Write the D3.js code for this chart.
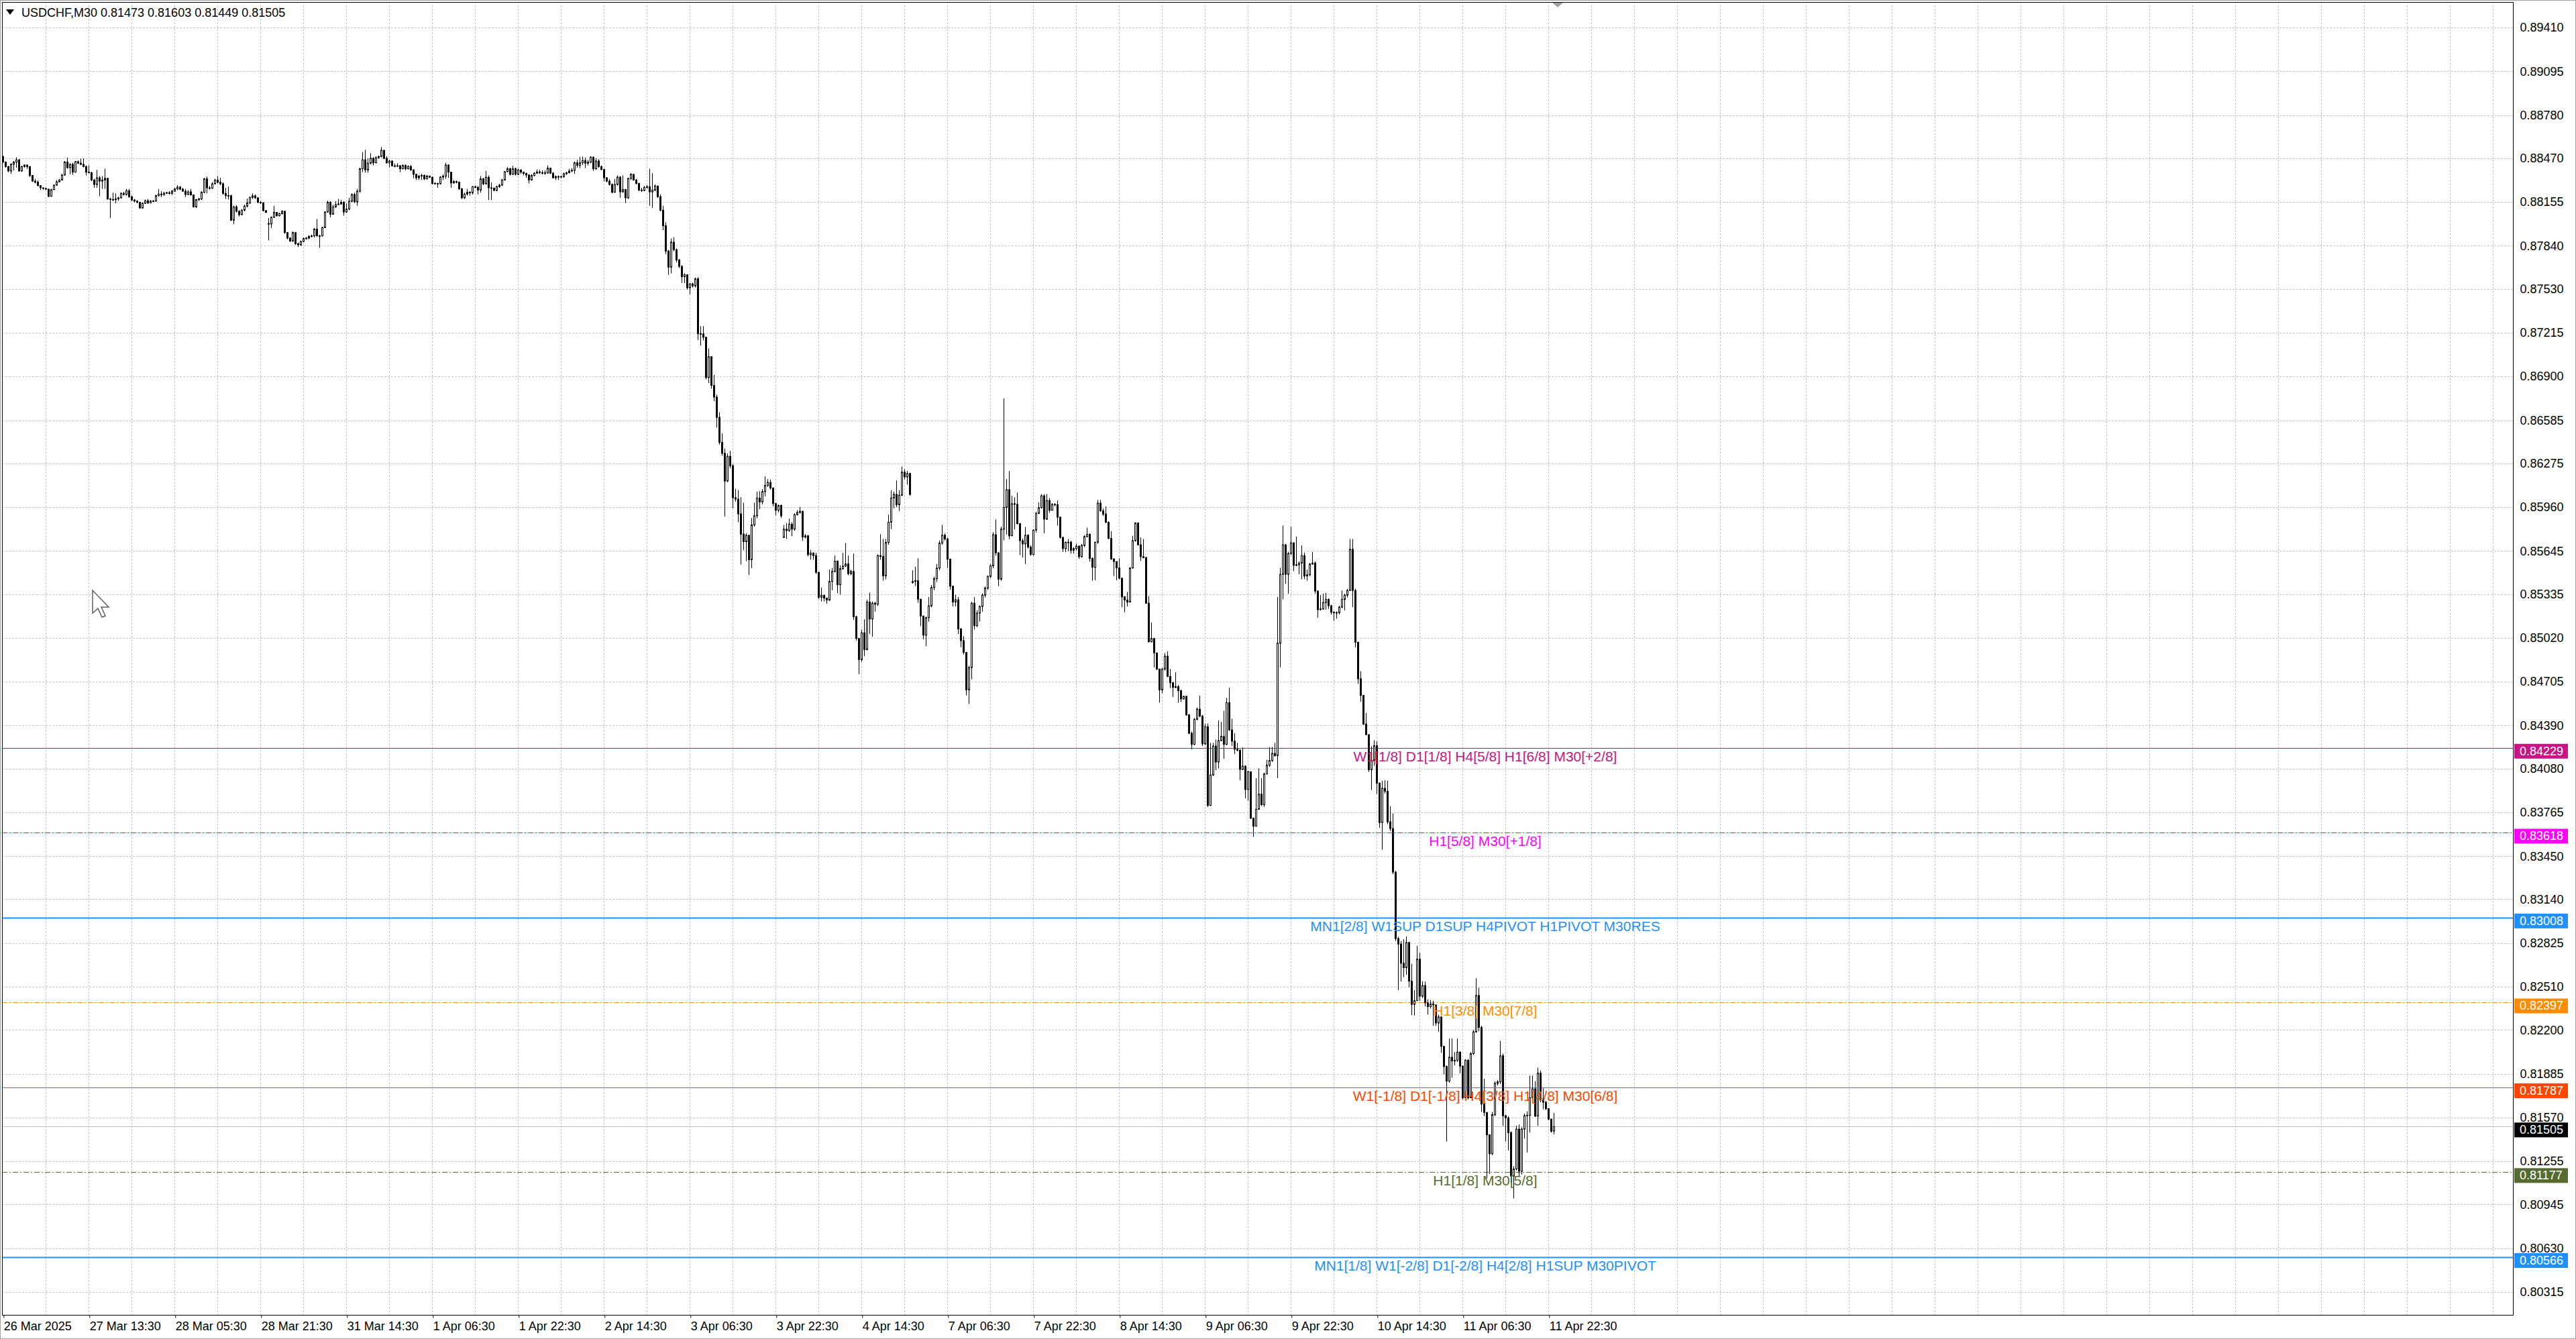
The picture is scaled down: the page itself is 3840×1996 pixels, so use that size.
<!DOCTYPE html>
<html>
<head>
<meta charset="utf-8">
<script src="https://cdn.jsdelivr.net/npm/d3@7"></script>
<style>
  html, body { margin: 0; padding: 0; background: #fff; }
  svg { display: block; }
  .ui { font-family: "Liberation Sans", Arial, sans-serif; font-size: 18px; }
  .lvl { font-family: "Liberation Sans", Arial, sans-serif; font-size: 21px; }
</style>
</head>
<body>
<div id="chart"></div>
<script>
const chartTitle = "USDCHF,M30  0.81473 0.81603 0.81449 0.81505";

// M30 bars; open = previous close except where a gap is listed
const closes = [
0.88442,0.88410,0.88378,0.88426,0.88442,0.88458,0.88378,0.88410,0.88421,0.88410,
0.88346,0.88305,0.88297,0.88273,0.88257,0.88252,0.88247,0.88196,0.88244,0.88276,
0.88300,0.88313,0.88349,0.88442,0.88402,0.88426,0.88370,0.88445,0.88434,0.88426,
0.88410,0.88370,0.88366,0.88313,0.88281,0.88329,0.88305,0.88313,0.88325,0.88177,
0.88173,0.88172,0.88178,0.88185,0.88217,0.88209,0.88236,0.88193,0.88169,0.88161,
0.88153,0.88112,0.88145,0.88164,0.88148,0.88161,0.88162,0.88201,0.88212,0.88206,
0.88218,0.88222,0.88217,0.88233,0.88249,0.88262,0.88247,0.88233,0.88209,0.88228,
0.88206,0.88120,0.88172,0.88177,0.88225,0.88321,0.88257,0.88254,0.88286,0.88313,
0.88297,0.88286,0.88217,0.88201,0.88201,0.88024,0.88120,0.88088,0.88064,0.88096,
0.88125,0.88148,0.88188,0.88199,0.88185,0.88153,0.88149,0.88093,0.88080,0.87997,
0.88045,0.88080,0.88056,0.88072,0.88088,0.87935,0.87895,0.87874,0.87935,0.87855,
0.87847,0.87871,0.87892,0.87895,0.87907,0.87911,0.87960,0.87911,0.87911,0.87971,
0.88083,0.88153,0.88067,0.88120,0.88136,0.88141,0.88153,0.88083,0.88104,0.88161,
0.88209,0.88156,0.88233,0.88394,0.88458,0.88386,0.88434,0.88469,0.88437,0.88474,
0.88482,0.88527,0.88469,0.88437,0.88450,0.88415,0.88413,0.88416,0.88394,0.88418,
0.88394,0.88410,0.88386,0.88354,0.88329,0.88341,0.88346,0.88321,0.88341,0.88333,
0.88289,0.88289,0.88286,0.88334,0.88341,0.88421,0.88370,0.88292,0.88302,0.88297,
0.88249,0.88185,0.88212,0.88225,0.88222,0.88265,0.88260,0.88241,0.88321,0.88286,
0.88333,0.88257,0.88254,0.88238,0.88265,0.88276,0.88313,0.88373,0.88394,0.88354,
0.88394,0.88354,0.88386,0.88370,0.88360,0.88349,0.88313,0.88346,0.88362,0.88371,
0.88366,0.88363,0.88365,0.88399,0.88362,0.88329,0.88338,0.88334,0.88338,0.88358,
0.88366,0.88378,0.88383,0.88437,0.88418,0.88437,0.88453,0.88434,0.88442,0.88477,
0.88394,0.88450,0.88410,0.88389,0.88329,0.88305,0.88281,0.88225,0.88281,0.88334,
0.88228,0.88244,0.88185,0.88325,0.88354,0.88313,0.88289,0.88241,0.88238,0.88260,
0.88265,0.88228,0.88241,0.88270,0.88193,0.88096,0.87984,0.87802,0.87686,0.87866,
0.87812,0.87738,0.87692,0.87618,0.87632,0.87538,0.87566,0.87552,0.87602,0.87208,
0.87206,0.87182,0.86892,0.87042,0.86836,0.86752,0.86606,0.86426,0.86348,0.86148,
0.86326,0.86258,0.86028,0.86018,0.85912,0.85766,0.85712,0.85758,0.85582,0.85832,
0.85898,0.86026,0.85998,0.86072,0.86116,0.86138,0.86098,0.85986,0.85938,0.85972,
0.85898,0.85802,0.85792,0.85838,0.85802,0.85906,0.85922,0.85930,0.85746,0.85754,
0.85618,0.85630,0.85612,0.85492,0.85312,0.85326,0.85306,0.85292,0.85426,0.85498,
0.85572,0.85402,0.85518,0.85536,0.85552,0.85482,0.85498,0.85172,0.85016,0.84864,
0.85056,0.84936,0.85278,0.85156,0.85269,0.85262,0.85612,0.85606,0.85466,0.85706,
0.85852,0.86026,0.86052,0.85978,0.86046,0.86212,0.86178,0.86202,0.86052,0.85426,
0.85432,0.85298,0.85177,0.85040,0.85166,0.85250,0.85382,0.85446,0.85522,0.85702,
0.85758,0.85732,0.85586,0.85392,0.85278,0.85294,0.85085,0.85000,0.84915,0.84646,
0.84807,0.85269,0.85108,0.85198,0.85246,0.85327,0.85378,0.85462,0.85538,0.85762,
0.85632,0.85442,0.85802,0.85958,0.86086,0.85754,0.85985,0.85980,0.85842,0.85719,
0.85696,0.85758,0.85673,0.85620,0.85795,0.85915,0.85957,0.86042,0.85874,0.86008,
0.85938,0.85980,0.85978,0.85888,0.85742,0.85662,0.85708,0.85708,0.85650,0.85662,
0.85680,0.85604,0.85685,0.85749,0.85765,0.85592,0.85528,0.85708,0.85989,0.85934,
0.85911,0.85851,0.85735,0.85588,0.85569,0.85523,0.85449,0.85315,0.85292,0.85278,
0.85523,0.85719,0.85846,0.85689,0.85604,0.85597,0.85269,0.84992,0.85015,0.84912,
0.84796,0.84646,0.84796,0.84888,0.84743,0.84697,0.84664,0.84669,0.84641,0.84581,
0.84600,0.84466,0.84334,0.84254,0.84434,0.84507,0.84457,0.84258,0.84381,0.83815,
0.84034,0.84242,0.84127,0.84281,0.84311,0.84254,0.84554,0.84358,0.84277,0.84219,
0.84212,0.84074,0.84097,0.83930,0.84057,0.83723,0.83665,0.83787,0.83896,0.83820,
0.84041,0.84104,0.84138,0.84189,0.84173,0.84981,0.85477,0.85689,0.85477,0.85627,
0.85703,0.85542,0.85546,0.85558,0.85611,0.85465,0.85474,0.85551,0.85558,0.85357,
0.85223,0.85228,0.85274,0.85297,0.85251,0.85205,0.85200,0.85202,0.85241,0.85297,
0.85327,0.85361,0.85657,0.85361,0.84989,0.84726,0.84606,0.84400,0.84324,0.84072,
0.84140,0.84244,0.83975,0.83692,0.83938,0.83917,0.83697,0.83649,0.83335,0.82857,
0.82818,0.82680,0.82648,0.82829,0.82551,0.82384,0.82411,0.82709,0.82443,0.82519,
0.82395,0.82368,0.82387,0.82380,0.82250,0.82294,0.82082,0.81937,0.81832,0.82004,
0.81977,0.81982,0.82041,0.81940,0.81712,0.81982,0.81712,0.82030,0.82186,0.82448,
0.82218,0.81667,0.81607,0.81446,0.81310,0.81591,0.81816,0.81827,0.82014,0.81583,
0.81567,0.81462,0.81149,0.81200,0.81487,0.81184,0.81487,0.81583,0.81586,0.81712,
0.81776,0.81580,0.81889,0.81696,0.81680,0.81634,0.81559,0.81470,0.81505
];

const highs = [
0.88487,0.88447,0.88415,0.88434,0.88450,0.88477,0.88463,0.88415,0.88426,0.88421,
0.88410,0.88346,0.88321,0.88310,0.88276,0.88260,0.88257,0.88249,0.88249,0.88281,
0.88313,0.88321,0.88357,0.88450,0.88474,0.88434,0.88437,0.88450,0.88453,0.88466,
0.88469,0.88418,0.88418,0.88373,0.88321,0.88386,0.88341,0.88341,0.88394,0.88330,
0.88185,0.88222,0.88217,0.88193,0.88225,0.88228,0.88249,0.88249,0.88201,0.88177,
0.88169,0.88156,0.88153,0.88173,0.88177,0.88169,0.88169,0.88206,0.88249,0.88233,
0.88228,0.88228,0.88233,0.88241,0.88257,0.88276,0.88270,0.88257,0.88249,0.88241,
0.88249,0.88201,0.88177,0.88185,0.88233,0.88329,0.88338,0.88270,0.88297,0.88321,
0.88341,0.88329,0.88297,0.88257,0.88265,0.88206,0.88128,0.88132,0.88096,0.88104,
0.88136,0.88180,0.88193,0.88217,0.88209,0.88190,0.88161,0.88153,0.88096,0.88040,
0.88051,0.88128,0.88083,0.88077,0.88096,0.88093,0.87939,0.87903,0.87943,0.87939,
0.87863,0.87878,0.87900,0.87903,0.87916,0.87920,0.87968,0.88032,0.87920,0.87976,
0.88088,0.88164,0.88161,0.88136,0.88161,0.88177,0.88169,0.88161,0.88145,0.88185,
0.88217,0.88222,0.88249,0.88402,0.88514,0.88530,0.88469,0.88506,0.88477,0.88485,
0.88490,0.88551,0.88527,0.88485,0.88458,0.88453,0.88431,0.88434,0.88421,0.88426,
0.88424,0.88418,0.88421,0.88389,0.88357,0.88350,0.88357,0.88354,0.88350,0.88346,
0.88338,0.88297,0.88292,0.88341,0.88354,0.88437,0.88426,0.88373,0.88313,0.88309,
0.88302,0.88257,0.88222,0.88249,0.88233,0.88270,0.88273,0.88270,0.88341,0.88329,
0.88378,0.88346,0.88297,0.88260,0.88273,0.88286,0.88321,0.88378,0.88405,0.88402,
0.88415,0.88402,0.88394,0.88386,0.88373,0.88366,0.88354,0.88354,0.88370,0.88389,
0.88386,0.88383,0.88383,0.88418,0.88402,0.88370,0.88346,0.88346,0.88344,0.88366,
0.88373,0.88394,0.88399,0.88447,0.88458,0.88479,0.88482,0.88474,0.88458,0.88485,
0.88482,0.88469,0.88463,0.88418,0.88394,0.88334,0.88319,0.88289,0.88321,0.88346,
0.88341,0.88346,0.88249,0.88329,0.88362,0.88357,0.88321,0.88292,0.88257,0.88270,
0.88276,0.88394,0.88362,0.88281,0.88273,0.88209,0.88128,0.88010,0.87810,0.87892,
0.87902,0.87820,0.87745,0.87700,0.87642,0.87636,0.87572,0.87574,0.87612,0.87614,
0.87262,0.87262,0.87186,0.87102,0.87046,0.86912,0.86770,0.86642,0.86492,0.86382,
0.86346,0.86366,0.86270,0.86092,0.86082,0.86032,0.85992,0.85772,0.85760,0.85882,
0.85992,0.86072,0.86076,0.86090,0.86182,0.86162,0.86158,0.86102,0.85990,0.85980,
0.85980,0.85832,0.85846,0.85878,0.85852,0.85916,0.85938,0.85962,0.85934,0.85766,
0.85760,0.85652,0.85636,0.85632,0.85494,0.85382,0.85330,0.85310,0.85512,0.85522,
0.85612,0.85576,0.85542,0.85632,0.85702,0.85612,0.85510,0.85626,0.85180,0.85020,
0.85080,0.85153,0.85295,0.85346,0.85282,0.85280,0.85620,0.85766,0.85732,0.85732,
0.85906,0.86082,0.86072,0.86152,0.86082,0.86252,0.86232,0.86222,0.86208,0.85506,
0.85532,0.85592,0.85300,0.85180,0.85172,0.85314,0.85400,0.85460,0.85552,0.85720,
0.85832,0.85772,0.85740,0.85590,0.85395,0.85330,0.85314,0.85090,0.85032,0.84910,
0.84820,0.85280,0.85314,0.85220,0.85253,0.85340,0.85390,0.85470,0.85550,0.85780,
0.85872,0.85635,0.85820,0.86742,0.86162,0.86220,0.86042,0.86031,0.86065,0.85846,
0.85735,0.85818,0.85765,0.85685,0.85800,0.85927,0.85996,0.86054,0.86054,0.86054,
0.86026,0.85989,0.85989,0.86008,0.85892,0.85749,0.85712,0.85731,0.85719,0.85673,
0.85696,0.85685,0.85696,0.85758,0.85812,0.85772,0.85597,0.85712,0.86012,0.86012,
0.85950,0.85966,0.85858,0.85788,0.85592,0.85569,0.85592,0.85454,0.85320,0.85350,
0.85528,0.85754,0.85851,0.85851,0.85742,0.85731,0.85604,0.85320,0.85131,0.85020,
0.84911,0.84796,0.84803,0.84911,0.84923,0.84796,0.84704,0.84773,0.84681,0.84646,
0.84604,0.84604,0.84473,0.84346,0.84443,0.84519,0.84604,0.84466,0.84404,0.84404,
0.84265,0.84265,0.84288,0.84427,0.84415,0.84496,0.84588,0.84662,0.84438,0.84334,
0.84265,0.84219,0.84231,0.84104,0.84064,0.84057,0.83727,0.84011,0.84081,0.84011,
0.84051,0.84143,0.84235,0.84235,0.84265,0.85315,0.85523,0.85828,0.85696,0.85638,
0.85818,0.85708,0.85749,0.85569,0.85685,0.85634,0.85511,0.85558,0.85638,0.85569,
0.85361,0.85327,0.85338,0.85343,0.85304,0.85258,0.85211,0.85211,0.85251,0.85361,
0.85338,0.85373,0.85731,0.85731,0.85374,0.84990,0.84780,0.84610,0.84480,0.84320,
0.84240,0.84284,0.84276,0.83980,0.83992,0.83995,0.83992,0.83810,0.83757,0.83344,
0.82870,0.82840,0.82853,0.82873,0.82834,0.82676,0.82487,0.82805,0.82754,0.82551,
0.82548,0.82420,0.82416,0.82410,0.82375,0.82310,0.82294,0.82086,0.81945,0.82138,
0.82138,0.82041,0.82138,0.82045,0.81945,0.81990,0.81990,0.82040,0.82200,0.82572,
0.82503,0.82230,0.81850,0.81600,0.81440,0.81610,0.81830,0.81840,0.82122,0.82030,
0.81590,0.81580,0.81470,0.81220,0.81511,0.81520,0.81500,0.81600,0.81615,0.81872,
0.81872,0.81832,0.81929,0.81908,0.81780,0.81690,0.81635,0.81560,0.81603
];

const lows = [
0.88437,0.88402,0.88370,0.88357,0.88381,0.88402,0.88373,0.88373,0.88402,0.88394,
0.88334,0.88300,0.88289,0.88268,0.88241,0.88244,0.88241,0.88190,0.88196,0.88241,
0.88273,0.88297,0.88310,0.88346,0.88394,0.88354,0.88350,0.88366,0.88429,0.88421,
0.88405,0.88346,0.88362,0.88305,0.88257,0.88257,0.88196,0.88249,0.88249,0.88172,
0.88040,0.88164,0.88145,0.88164,0.88180,0.88201,0.88201,0.88185,0.88161,0.88153,
0.88145,0.88107,0.88109,0.88141,0.88141,0.88145,0.88156,0.88157,0.88193,0.88190,
0.88201,0.88212,0.88209,0.88206,0.88228,0.88241,0.88241,0.88228,0.88190,0.88206,
0.88201,0.88116,0.88112,0.88161,0.88169,0.88217,0.88217,0.88244,0.88249,0.88281,
0.88289,0.88276,0.88206,0.88177,0.88173,0.88019,0.87995,0.88080,0.88051,0.88061,
0.88088,0.88116,0.88141,0.88177,0.88177,0.88145,0.88141,0.88088,0.88077,0.87879,
0.87968,0.88040,0.88051,0.88051,0.88064,0.87927,0.87887,0.87868,0.87868,0.87847,
0.87831,0.87839,0.87865,0.87884,0.87887,0.87900,0.87900,0.87907,0.87826,0.87907,
0.87968,0.88080,0.88045,0.88064,0.88112,0.88132,0.88136,0.88056,0.88077,0.88096,
0.88153,0.88148,0.88128,0.88222,0.88370,0.88366,0.88366,0.88426,0.88418,0.88434,
0.88466,0.88477,0.88463,0.88431,0.88405,0.88410,0.88405,0.88407,0.88370,0.88389,
0.88383,0.88389,0.88378,0.88325,0.88313,0.88313,0.88313,0.88313,0.88318,0.88328,
0.88281,0.88281,0.88257,0.88281,0.88313,0.88321,0.88329,0.88257,0.88286,0.88289,
0.88244,0.88177,0.88177,0.88201,0.88201,0.88209,0.88254,0.88209,0.88222,0.88276,
0.88281,0.88169,0.88169,0.88233,0.88233,0.88257,0.88273,0.88309,0.88370,0.88346,
0.88350,0.88346,0.88350,0.88357,0.88346,0.88329,0.88289,0.88309,0.88338,0.88360,
0.88357,0.88354,0.88350,0.88357,0.88357,0.88325,0.88313,0.88313,0.88325,0.88329,
0.88350,0.88360,0.88370,0.88357,0.88402,0.88399,0.88421,0.88399,0.88418,0.88434,
0.88378,0.88386,0.88402,0.88383,0.88302,0.88297,0.88273,0.88217,0.88222,0.88273,
0.88185,0.88222,0.88148,0.88177,0.88313,0.88309,0.88281,0.88233,0.88228,0.88233,
0.88249,0.88128,0.88112,0.88233,0.88185,0.88088,0.87952,0.87780,0.87632,0.87642,
0.87800,0.87720,0.87680,0.87572,0.87572,0.87526,0.87492,0.87540,0.87540,0.87162,
0.87122,0.87160,0.86880,0.86852,0.86812,0.86722,0.86532,0.86410,0.86330,0.85892,
0.86140,0.86240,0.85952,0.86000,0.85852,0.85548,0.85652,0.85572,0.85472,0.85522,
0.85820,0.85880,0.85946,0.85980,0.86038,0.86106,0.86086,0.85966,0.85902,0.85922,
0.85882,0.85742,0.85732,0.85782,0.85752,0.85790,0.85900,0.85914,0.85718,0.85736,
0.85606,0.85582,0.85582,0.85480,0.85300,0.85282,0.85282,0.85266,0.85286,0.85362,
0.85490,0.85342,0.85332,0.85510,0.85530,0.85470,0.85470,0.85150,0.85000,0.84759,
0.84847,0.84888,0.84930,0.85048,0.85028,0.85209,0.85250,0.85582,0.85432,0.85440,
0.85690,0.85802,0.85952,0.85960,0.85932,0.86040,0.86160,0.86122,0.86042,0.85410,
0.85392,0.85272,0.85105,0.85010,0.84960,0.85137,0.85240,0.85362,0.85422,0.85506,
0.85690,0.85720,0.85522,0.85366,0.85246,0.85246,0.85048,0.84952,0.84900,0.84606,
0.84545,0.84722,0.85080,0.85097,0.85137,0.85209,0.85310,0.85365,0.85450,0.85520,
0.85610,0.85392,0.85430,0.85722,0.85762,0.85730,0.85788,0.85800,0.85835,0.85615,
0.85597,0.85551,0.85662,0.85611,0.85611,0.85777,0.85911,0.85950,0.85772,0.85870,
0.85920,0.85938,0.85966,0.85828,0.85735,0.85638,0.85638,0.85643,0.85627,0.85627,
0.85650,0.85588,0.85597,0.85673,0.85742,0.85569,0.85431,0.85435,0.85696,0.85927,
0.85897,0.85846,0.85731,0.85581,0.85465,0.85435,0.85442,0.85241,0.85204,0.85246,
0.85274,0.85518,0.85712,0.85685,0.85574,0.85592,0.85265,0.84988,0.84988,0.84808,
0.84789,0.84554,0.84623,0.84784,0.84738,0.84658,0.84595,0.84658,0.84554,0.84558,
0.84577,0.84461,0.84327,0.84219,0.84249,0.84427,0.84450,0.84242,0.84249,0.83804,
0.83811,0.84027,0.84069,0.84081,0.84276,0.84150,0.84249,0.84351,0.84242,0.84184,
0.84203,0.83995,0.84069,0.83866,0.83850,0.83718,0.83589,0.83665,0.83787,0.83811,
0.83804,0.84041,0.84092,0.84127,0.84166,0.84011,0.84808,0.85297,0.85408,0.85338,
0.85615,0.85500,0.85535,0.85477,0.85442,0.85442,0.85431,0.85465,0.85546,0.85338,
0.85165,0.85218,0.85223,0.85223,0.85228,0.85188,0.85142,0.85158,0.85188,0.85234,
0.85218,0.85311,0.85357,0.85241,0.84952,0.84689,0.84561,0.84394,0.84320,0.84056,
0.83927,0.84099,0.83898,0.83654,0.83496,0.83900,0.83680,0.83630,0.83320,0.82840,
0.82487,0.82548,0.82580,0.82596,0.82508,0.82307,0.82304,0.82416,0.82410,0.82430,
0.82370,0.82310,0.82355,0.82230,0.82230,0.82186,0.82037,0.81880,0.81398,0.81821,
0.81856,0.81945,0.81969,0.81888,0.81700,0.81710,0.81700,0.81710,0.82020,0.82180,
0.82190,0.81610,0.81580,0.81133,0.81165,0.81300,0.81580,0.81800,0.81810,0.81510,
0.81398,0.81334,0.81100,0.80988,0.81190,0.81150,0.81160,0.81420,0.81318,0.81462,
0.81710,0.81575,0.81510,0.81680,0.81630,0.81623,0.81551,0.81462,0.81449
];

// [bar index, open] where the bar did not open at the previous close
const gapOpens = [[0, 0.88482], [99, 0.88000], [291, 0.85742], [339, 0.85418], [578, 0.81473]];

const priceTicks = [0.89410,0.89095,0.88780,0.88470,0.88155,0.87840,0.87530,0.87215,0.86900,0.86585,
  0.86275,0.85960,0.85645,0.85335,0.85020,0.84705,0.84390,0.84080,0.83765,0.83450,
  0.83140,0.82825,0.82510,0.82200,0.81885,0.81570,0.81255,0.80945,0.80630,0.80315];

const timeTickBars = [0,32,64,96,128,160,192,224,256,288,320,352,384,416,448,480,512,544,576];
const timeLabels = ["26 Mar 2025","27 Mar 13:30","28 Mar 05:30","28 Mar 21:30","31 Mar 14:30",
  "1 Apr 06:30","1 Apr 22:30","2 Apr 14:30","3 Apr 06:30","3 Apr 22:30","4 Apr 14:30",
  "7 Apr 06:30","7 Apr 22:30","8 Apr 14:30","9 Apr 06:30","9 Apr 22:30","10 Apr 14:30",
  "11 Apr 06:30","11 Apr 22:30"];

const levelPrices = [0.84229, 0.83618, 0.83008, 0.82397, 0.81787, 0.81177, 0.80566];
const levelNames = [
  "W1[1/8] D1[1/8] H4[5/8] H1[6/8] M30[+2/8]",
  "H1[5/8] M30[+1/8]",
  "MN1[2/8] W1SUP D1SUP H4PIVOT H1PIVOT M30RES",
  "H1[3/8] M30[7/8]",
  "W1[-1/8] D1[-1/8] H4[3/8] H1[4/8] M30[6/8]",
  "H1[1/8] M30[5/8]",
  "MN1[1/8] W1[-2/8] D1[-2/8] H4[2/8] H1SUP M30PIVOT"
];
const lastPrice = 0.81505;

// styles for the levels, same order
const levelColors = ["#c71585", "#ff00ff", "#1e90ff", "#ff8c00", "#ff4500", "#556b2f", "#1e90ff"];
const levelDashes = [null, "8,3,2,3", null, "8,3,2,3", null, "8,3,2,3", null];
const levelWidths = [1, 1, 2, 1, 1, 1, 2];

const W = 3840, H = 1996;
const pLeft = 3, pTop = 3, pRight = 3746, pBottom = 1960;
const barStep = 4;

const svg = d3.select("#chart").append("svg")
  .attr("width", W).attr("height", H)
  .attr("viewBox", "0 0 " + W + " " + H);

svg.append("rect").attr("x", 0).attr("y", 0).attr("width", W).attr("height", H).attr("fill", "#fff");
svg.append("rect").attr("x", 0.5).attr("y", 0.5).attr("width", W - 1).attr("height", H - 1)
  .attr("fill", "none").attr("stroke", "#a0a0a0");

const maxBars = Math.floor((pRight - 5.3) / barStep);
const x = d3.scaleLinear().domain([0, maxBars]).range([5.3, 5.3 + maxBars * barStep]);
const y = d3.scaleLinear().domain([0.80315, 0.89410]).range([1926, 41]);

svg.append("defs").append("clipPath").attr("id", "plot")
  .append("rect").attr("x", pLeft).attr("y", pTop).attr("width", pRight - pLeft).attr("height", pBottom - pTop);

const plot = svg.append("g").attr("clip-path", "url(#plot)");

// grid
plot.append("g").selectAll("line").data(priceTicks).enter().append("line")
  .attr("x1", pLeft).attr("x2", pRight)
  .attr("y1", d => Math.round(y(d)) + 0.5).attr("y2", d => Math.round(y(d)) + 0.5)
  .attr("stroke", "#c4c4c4").attr("stroke-dasharray", "3,2");

const gridBars = d3.range(16, maxBars + 1, 16);
plot.append("g").selectAll("line").data(gridBars).enter().append("line")
  .attr("x1", d => Math.round(x(d)) - 0.5).attr("x2", d => Math.round(x(d)) - 0.5)
  .attr("y1", pTop).attr("y2", pBottom)
  .attr("stroke", "#c4c4c4").attr("stroke-dasharray", "3,2");

// level lines
plot.append("g").selectAll("line").data(levelPrices).enter().append("line")
  .attr("x1", pLeft).attr("x2", pRight)
  .attr("y1", d => Math.round(y(d)) + 0.5).attr("y2", d => Math.round(y(d)) + 0.5)
  .attr("stroke", (d, i) => levelColors[i])
  .attr("stroke-width", (d, i) => levelWidths[i])
  .attr("stroke-dasharray", (d, i) => levelDashes[i]);

plot.append("line")
  .attr("x1", pLeft).attr("x2", pRight)
  .attr("y1", Math.round(y(lastPrice)) + 0.5).attr("y2", Math.round(y(lastPrice)) + 0.5)
  .attr("stroke", "#c0c0c0");

// candles
const n = Math.min(closes.length, highs.length, lows.length);
const gapMap = new Map(gapOpens);
const bars = d3.range(n).map(i => ({
  i: i,
  o: gapMap.has(i) ? gapMap.get(i) : closes[i - 1],
  h: highs[i], l: lows[i], c: closes[i]
}));

const cg = plot.append("g");
cg.selectAll("line").data(bars).enter().append("line")
  .attr("x1", d => Math.round(x(d.i)) - 0.5).attr("x2", d => Math.round(x(d.i)) - 0.5)
  .attr("y1", d => y(d.h)).attr("y2", d => y(d.l))
  .attr("stroke", "#000").attr("stroke-width", 1);

cg.selectAll("rect").data(bars).enter().append("rect")
  .attr("x", d => Math.round(x(d.i)) - 1.5)
  .attr("width", 2)
  .attr("y", d => y(Math.max(d.o, d.c)))
  .attr("height", d => Math.max(0.8, Math.abs(y(d.o) - y(d.c))))
  .attr("fill", d => d.c >= d.o ? "#fff" : "#000")
  .attr("stroke", "#000").attr("stroke-width", 1);

// level captions
plot.append("g").selectAll("text").data(levelPrices).enter().append("text")
  .attr("class", "lvl")
  .attr("x", 2214).attr("y", d => y(d) + 20)
  .attr("text-anchor", "middle")
  .attr("fill", (d, i) => levelColors[i])
  .text((d, i) => levelNames[i]);

// frame
svg.append("rect").attr("x", pLeft + 0.5).attr("y", pTop + 0.5)
  .attr("width", pRight - pLeft).attr("height", pBottom - pTop)
  .attr("fill", "none").attr("stroke", "#000");

// price axis
const yAxis = d3.axisRight(y).tickValues(priceTicks).tickFormat(d3.format(".5f"))
  .tickSize(0).tickPadding(10);
const ya = svg.append("g").attr("transform", "translate(" + (pRight + 0.5) + ",0)").call(yAxis);
ya.select(".domain").remove();
ya.selectAll("text").attr("fill", "#000")
  .style("font-family", "'Liberation Sans', Arial, sans-serif").style("font-size", "18px");

// time axis
const xAxis = d3.axisBottom(x).tickValues(timeTickBars).tickFormat((d, i) => timeLabels[i])
  .tickSize(4).tickPadding(6);
const xa = svg.append("g").attr("transform", "translate(0," + (pBottom + 0.5) + ")").call(xAxis);
xa.select(".domain").remove();
xa.selectAll(".tick line").attr("stroke", "#000");
xa.selectAll("text").attr("text-anchor", "start").attr("fill", "#000")
  .style("font-family", "'Liberation Sans', Arial, sans-serif").style("font-size", "18px");

// price tags on the axis
const tags = levelPrices.map((p, i) => ({ p: p, bg: levelColors[i] }));
tags.push({ p: lastPrice, bg: "#000" });
const tg = svg.append("g");
tg.selectAll("rect").data(tags).enter().append("rect")
  .attr("x", pRight + 2).attr("width", 80).attr("height", 22)
  .attr("y", d => y(d.p) - 6).attr("fill", d => d.bg);
tg.selectAll("text").data(tags).enter().append("text")
  .attr("class", "ui").attr("x", pRight + 10).attr("y", d => y(d.p) + 5)
  .attr("dominant-baseline", "central").attr("fill", "#fff")
  .text(d => d3.format(".5f")(d.p));

// title
svg.append("path").attr("d", "M9,14 L21,14 L15,22 Z").attr("fill", "#000");
svg.append("text").attr("class", "ui").attr("x", 32).attr("y", 19)
  .attr("dominant-baseline", "central").attr("fill", "#000").text(chartTitle);

// chart shift marker
svg.append("path").attr("d", "M2314,4 L2330,4 L2322,11 Z").attr("fill", "#a0a0a0");

// mouse pointer left in the screenshot
svg.append("path")
  .attr("d", "M0,0 L0,34 L8,27 L14,40 L19,38 L13,25 L24,25 Z")
  .attr("transform", "translate(138,880)")
  .attr("fill", "#fff").attr("stroke", "#606060").attr("stroke-width", 1.5);
</script>
</body>
</html>
